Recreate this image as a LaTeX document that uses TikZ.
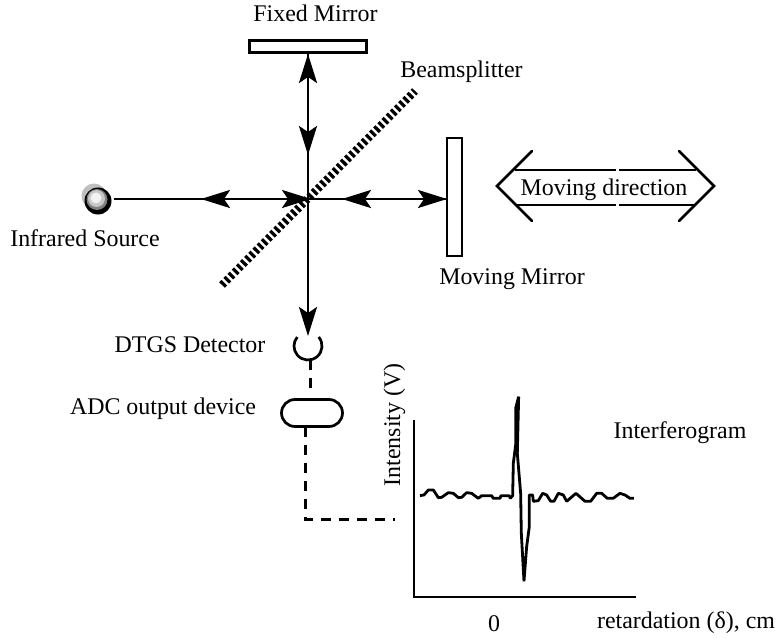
\documentclass[tikz,border=0pt]{standalone}
\usepackage{fontspec}
\setmainfont{Liberation Serif}
\usetikzlibrary{arrows.meta,calc}
\tikzset{
  lbl/.style={inner sep=0pt,font=\fontsize{24}{28}\selectfont,text=black},
  mirror/.style={draw=black,line width=2.7bp,fill=white,inner sep=0pt,minimum width=0pt},
  beam/.style={line width=2.7bp,draw=black},
  head/.style={-{Stealth[length=29bp,width=18bp,inset=6bp]}},
  signal/.style={line width=3bp,draw=black,dash pattern=on 10bp off 8bp},
  axisline/.style={line width=2.7bp,draw=black},
  trace/.style={line width=2.8bp,draw=black,line join=bevel},
  bsplit/.style={line width=8bp,draw=black,dash pattern=on 3.2bp off 2.7bp},
  movearrow/.style={line width=2.7bp,draw=black,line cap=round}
}
\begin{document}
\begin{tikzpicture}[x=1bp,y=-1bp]
\useasboundingbox (0,0) rectangle (780,638);
% named points
\coordinate (split) at (308,199);
\coordinate (bsA) at (222,285);
\coordinate (bsB) at (415,91);
% beamsplitter
\draw[bsplit] (bsA) -- (bsB);
% mirrors
\node[mirror,minimum width=117bp,minimum height=12bp] (fixed) at (308,46.5) {};
\node[mirror,minimum width=15bp,minimum height=118bp] (moving) at (454.5,197) {};
% source
\fill[black!25] (94,196) circle (12.5);
\node[circle,fill=black,minimum size=27bp,inner sep=0pt] (source) at (98,201) {};
\fill[black!50] (97,199.5) circle (10.5);
\fill[black!22] (96.5,198.5) circle (8.5);
\fill[black!5] (96,198) circle (5.5);
% detector and ADC
\coordinate (detC) at (308,346);
\coordinate (detBot) at (310.5,360);
\draw[line width=2.7bp] ($(detC)+(-40:14)$) arc[start angle=40,end angle=-220,radius=14bp];
\node[draw=black,line width=2.7bp,fill=white,rounded corners=13.5bp,minimum width=61bp,minimum height=27bp,inner sep=0pt] (adc) at (312,413) {};
\coordinate (adcIn) at (310.5,393);
\coordinate (adcOut) at (305,427);
\coordinate (corner) at (305,519);
\coordinate (plotIn) at (395,519);
% beams
\coordinate (fixedTip) at (308,54);
\coordinate (movTip) at (447,199);
\coordinate (srcEnd) at (114,199);
\coordinate (down1) at (308,155);
\coordinate (left1) at (201,199);
\coordinate (right1) at (311,199);
\coordinate (left2) at (342,199);
\coordinate (detTip) at (308,336);
\draw[beam,head] (split) -- (fixedTip);
\draw[beam,head] (fixedTip) -- (down1);
\draw[beam] (split) -- (srcEnd);
\draw[beam,head] (split) -- (left1);
\draw[beam,head] (left1) -- (right1);
\draw[beam,head] (split) -- (movTip);
\draw[beam,head] (movTip) -- (left2);
\draw[beam,head] (split) -- (detTip);
% signal path
\draw[signal] (detBot) -- (adcIn);
\draw[signal] (adcOut) -- (corner) -- (plotIn);
% moving direction
\coordinate (mL) at (497,186);
\coordinate (mR) at (714,186);
\draw[movearrow] (532,151) -- (mL) -- (532,221);
\draw[movearrow] (679,151) -- (mR) -- (679,221);
\draw[beam] (515,170) -- (616,170);
\draw[beam] (619,170) -- (696,170);
\draw[beam] (515,205) -- (616,205);
\draw[beam] (619,205) -- (696,205);
% plot
\coordinate (axTop) at (414,420);
\coordinate (axOrigin) at (414,597);
\coordinate (axEnd) at (636,597);
\draw[axisline] (axTop) -- (axOrigin) -- (axEnd);
\begin{scope}[shift={(400,380)},x=0.3333bp,y=-0.3333bp]
\draw[trace] (60,347)--(72,345)--(85,330)--(100,330)--(115,353)--(125,352)--(145,338)--(160,340)--(175,353)--(185,352)--(200,338)--(215,340)--(235,355)--(245,347)--(275,347)--(280,355)--(300,355)--(303,347)--(328,347)--(331,355)--(338,347)--(340,250)--(347,195)--(347,85)--(356,50)--(352,220)--(362,340)--(364,460)--(372,604)--(380,500)--(388,440)--(388,345)--(398,345)--(400,364)--(415,362)--(428,340)--(440,345)--(452,364)--(462,364)--(475,340)--(490,345)--(500,364)--(528,340)--(555,364)--(572,364)--(590,340)--(605,340)--(622,355)--(640,355)--(660,340)--(675,345)--(690,355)--(702,355);
\end{scope}
% labels
\node[lbl,anchor=base] (tFixed) at (315.5,22) {Fixed Mirror};
\node[lbl,anchor=base] (tBeam) at (461.5,78) {Beamsplitter};
\node[lbl,anchor=base] (tIR) at (85,246) {Infrared Source};
\node[lbl,anchor=base] (tMM) at (512,284) {Moving Mirror};
\node[lbl,anchor=base] (tMD) at (604,195.5) {Moving direction};
\node[lbl,anchor=base] (tDTGS) at (190,352.5) {DTGS Detector};
\node[lbl,anchor=base] (tADC) at (163,414) {ADC output device};
\node[lbl,anchor=base,rotate=90] (tInt) at (400,425) {Intensity (V)};
\node[lbl,anchor=base] (tIfg) at (680,438) {Interferogram};
\node[lbl,anchor=base] (tZero) at (494,631) {0};
\node[lbl,anchor=base] (tRet) at (686,628) {retardation (δ), cm};
\end{tikzpicture}
\end{document}
